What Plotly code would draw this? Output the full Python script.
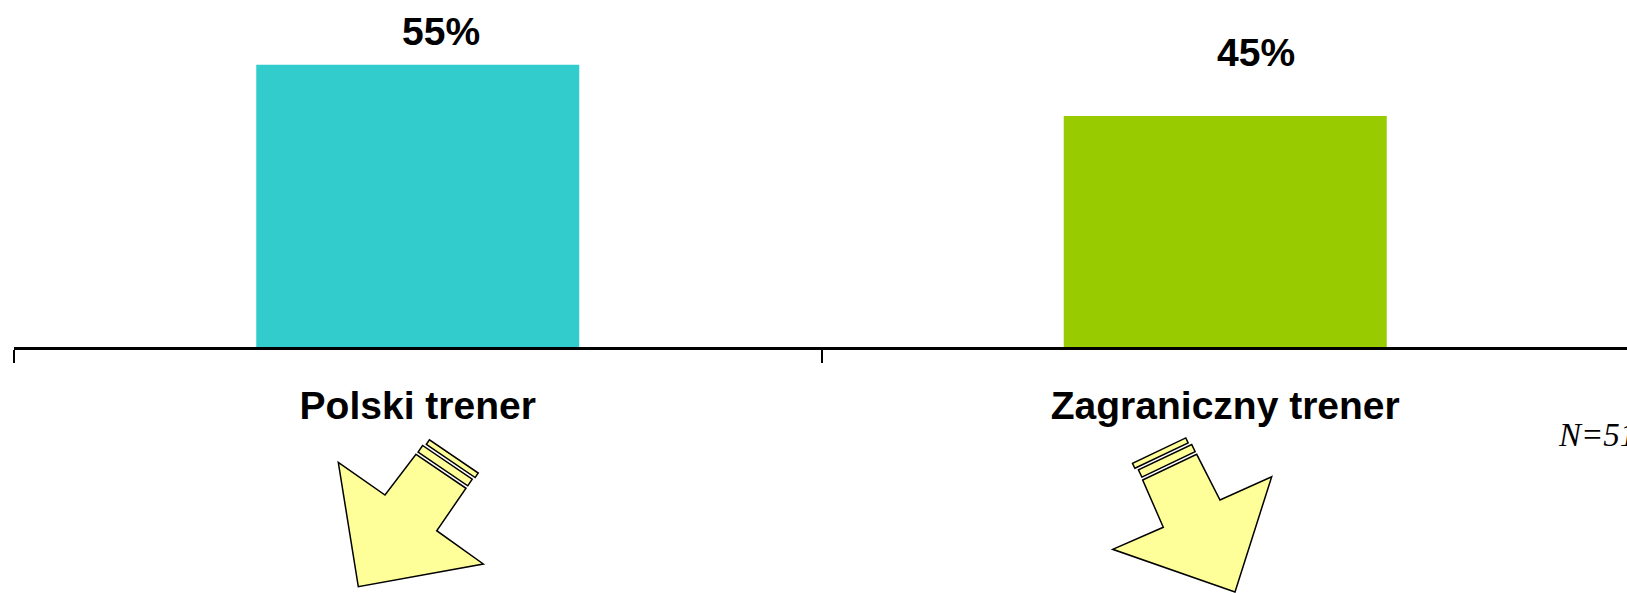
import plotly.graph_objects as go

categories = ["Polski trener", "Zagraniczny trener"]
values = [55, 45]
value_labels = ["55%", "45%"]
bar_colors = ["#33CCCC", "#99CC00"]
label_xshift = [23, 31]
label_yshift = [33, 64]
note_text = "N=51"

BODY = 0  # page margin removed below
W, H = 1627 - BODY, 593 - BODY
ML, MR, MT, MB = 14, 0, 8, 246
PW, PH = W - ML - MR, H - MT - MB


def px(x, y):
    # page pixel coords -> paper coords
    x, y = x - BODY, y - BODY
    return (x - ML) / PW, (H - MB - y) / PH


def path(points):
    pts = [px(x, y) for x, y in points]
    return "M " + " L ".join(f"{a:.5f},{b:.5f}" for a, b in pts) + " Z"


def strip(A, d, n, t0, t1, o1, o2):
    pts = []
    for t, o in [(t0, o1), (t1, o1), (t1, o2), (t0, o2)]:
        pts.append((A[0] + d[0] * t + n[0] * o, A[1] + d[1] * t + n[1] * o))
    return pts


fig = go.Figure()
fig.add_trace(go.Bar(
    x=categories, y=values, marker_color=bar_colors, width=0.4,
    marker_line_width=0, hoverinfo="skip",
))

for c, v, t, xs, ys in zip(categories, values, value_labels, label_xshift, label_yshift):
    fig.add_annotation(x=c, y=v, text=t, showarrow=False, xshift=xs, yshift=ys,
                       yanchor="middle",
                       font=dict(family="Liberation Sans, Arial", size=39, color="black", weight="bold"))

fig.add_annotation(xref="paper", yref="paper", x=px(1556, 0)[0], y=px(0, 435)[1],
                   text=note_text, showarrow=False, xanchor="left", yanchor="middle",
                   font=dict(family="Liberation Serif, Times New Roman", size=33, color="black",
                             style="italic"))

shape_style = dict(type="path", xref="paper", yref="paper", fillcolor="#FFFF99",
                   line=dict(color="black", width=1.5), layer="above")

# left arrow
arrow1 = [(416, 454.3), (466, 488.3), (436.7, 530.7), (483.3, 564), (358.3, 586.7),
          (338.3, 462.3), (385, 495)]
A1 = (416, 454.3)
d1 = (0.827, 0.562)
n1 = (0.562, -0.827)
fig.add_shape(path=path(arrow1), **shape_style)
fig.add_shape(path=path(strip(A1, d1, n1, 0.5, 60.5, 3, 11)), **shape_style)
fig.add_shape(path=path(strip(A1, d1, n1, 3, 62, 14, 19.5)), **shape_style)

# right arrow
arrow2 = [(1142.7, 480), (1196.7, 454.3), (1220, 500), (1271.7, 476.7), (1235, 592),
          (1112.7, 549.3), (1163.3, 527.3)]
A2 = (1142.7, 480)
d2 = (0.903, -0.430)
n2 = (-0.430, -0.903)
fig.add_shape(path=path(arrow2), **shape_style)
fig.add_shape(path=path(strip(A2, d2, n2, 0.5, 59.5, 3, 11)), **shape_style)
fig.add_shape(path=path(strip(A2, d2, n2, -2, 57, 14, 19.5)), **shape_style)

fig.update_layout(
    width=W, height=H,
    margin=dict(l=ML, r=MR, t=MT, b=MB, pad=0),
    paper_bgcolor="white", plot_bgcolor="white",
    showlegend=False,
    xaxis=dict(
        type="category", range=[-0.5, -0.5 + PW / 807.5],
        showline=True, linecolor="black", linewidth=2.5,
        ticks="outside", ticklen=13, tickwidth=1.5, tickcolor="black",
        tickson="boundaries", showgrid=False, zeroline=False,
        tickfont=dict(family="Liberation Sans, Arial", size=39, color="black", weight="bold"),
        ticklabelstandoff=22,
    ),
    yaxis=dict(range=[0, PH / 5.133], visible=False, showgrid=False, zeroline=False),
)

fig.write_html(
    "out.html",
    config={"displayModeBar": False},
    post_script="document.body.style.margin='0';"
                "document.documentElement.style.overflow='hidden';",
)
